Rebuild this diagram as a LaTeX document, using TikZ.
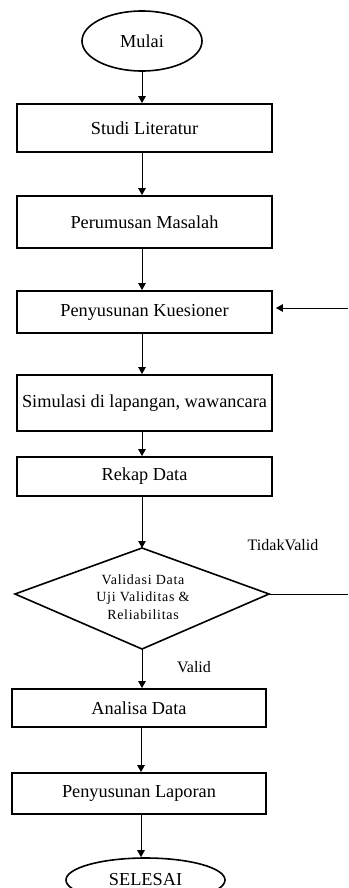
\documentclass[tikz,border=0pt]{standalone}
\usepackage{fontspec}
\setmainfont{Liberation Serif}
\usetikzlibrary{shapes.geometric,arrows.meta}

\tikzset{
  procbox/.style={draw, line width=1.8pt, rectangle, inner sep=0pt,
    minimum width=255pt, font=\fontsize{18.3}{21}\selectfont},
  terminal/.style={draw, line width=1.6pt, ellipse, inner sep=0pt,
    font=\fontsize{18.3}{21}\selectfont},
  flow/.style={line width=0.9pt, -{Triangle[length=7pt,width=7.5pt]}},
  plain/.style={line width=0.9pt},
  edgelabel/.style={font=\fontsize{16}{19}\selectfont, inner sep=0pt},
}

\begin{document}
\begin{tikzpicture}[x=1pt, y=-1pt]
  \useasboundingbox (0,0) rectangle (348,888);
  \clip (0,0) rectangle (348,888);

  % start and end terminals
  \node[terminal, minimum width=120pt, minimum height=60pt] (mulai) at (142,41) {Mulai};
  \node[terminal, minimum width=159pt, minimum height=44pt] (selesai) at (145.5,880) {SELESAI};

  % process steps
  \node[procbox, minimum height=48pt] (studi)    at (144.5,128)   {Studi Literatur};
  \node[procbox, minimum height=52pt] (rumusan)  at (144.5,222)   {Perumusan Masalah};
  \node[procbox, minimum height=42pt] (kues)     at (144.5,312)   {Penyusunan Kuesioner};
  \node[procbox, minimum height=56pt] (simulasi) at (144.5,403)   {Simulasi di lapangan, wawancara};
  \node[procbox, minimum height=39pt] (rekap)    at (144.5,476.5) {Rekap Data};
  \node[procbox, minimum width=254pt, minimum height=38pt] (analisa) at (139,708) {Analisa Data};
  \node[procbox, minimum width=254pt, minimum height=41pt] (laporan) at (139,793.5) {Penyusunan Laporan};

  % decision diamond
  \coordinate (dtop)   at (142,548);
  \coordinate (dleft)  at (15,594);
  \coordinate (dright) at (269,594);
  \coordinate (dbot)   at (142,649);
  \draw[line width=1.6pt, line join=miter] (dtop) -- (dright) -- (dbot) -- (dleft) -- cycle;
  \node[align=center, inner sep=0pt,
        font=\fontsize{14}{17.5}\selectfont\addfontfeature{LetterSpace=5}] (valtext) at (143,597)
        {Validasi Data\\Uji Validitas \&\\Reliabilitas};

  % free ends of the loop-back lines
  \coordinate (tvend) at (348,594);
  \coordinate (fbend) at (348,308);

  % main flow
  \draw[flow] (mulai.south) -- (mulai.south |- studi.north);
  \draw[flow] (142,0 |- studi.south) -- (142,0 |- rumusan.north);
  \draw[flow] (142,0 |- rumusan.south) -- (142,0 |- kues.north);
  \draw[flow] (142,0 |- kues.south) -- (142,0 |- simulasi.north);
  \draw[flow] (142,0 |- simulasi.south) -- (142,0 |- rekap.north);
  \draw[flow] (142,0 |- rekap.south) -- (dtop);
  \draw[flow] (dbot) -- (dbot |- analisa.north);
  \draw[flow] (141,0 |- analisa.south) -- (141,0 |- laporan.north);
  \draw[flow] (141,0 |- laporan.south) -- (141,0 |- selesai.north);

  % rejected data goes back to the questionnaire
  \draw[plain] (dright) -- (tvend);
  \draw[flow, shorten >=3pt] (fbend) -- (kues.east |- fbend);

  % branch labels
  \node[edgelabel] (tidak) at (283,545) {TidakValid};
  \node[edgelabel] (valid) at (194,667) {Valid};
\end{tikzpicture}
\end{document}
